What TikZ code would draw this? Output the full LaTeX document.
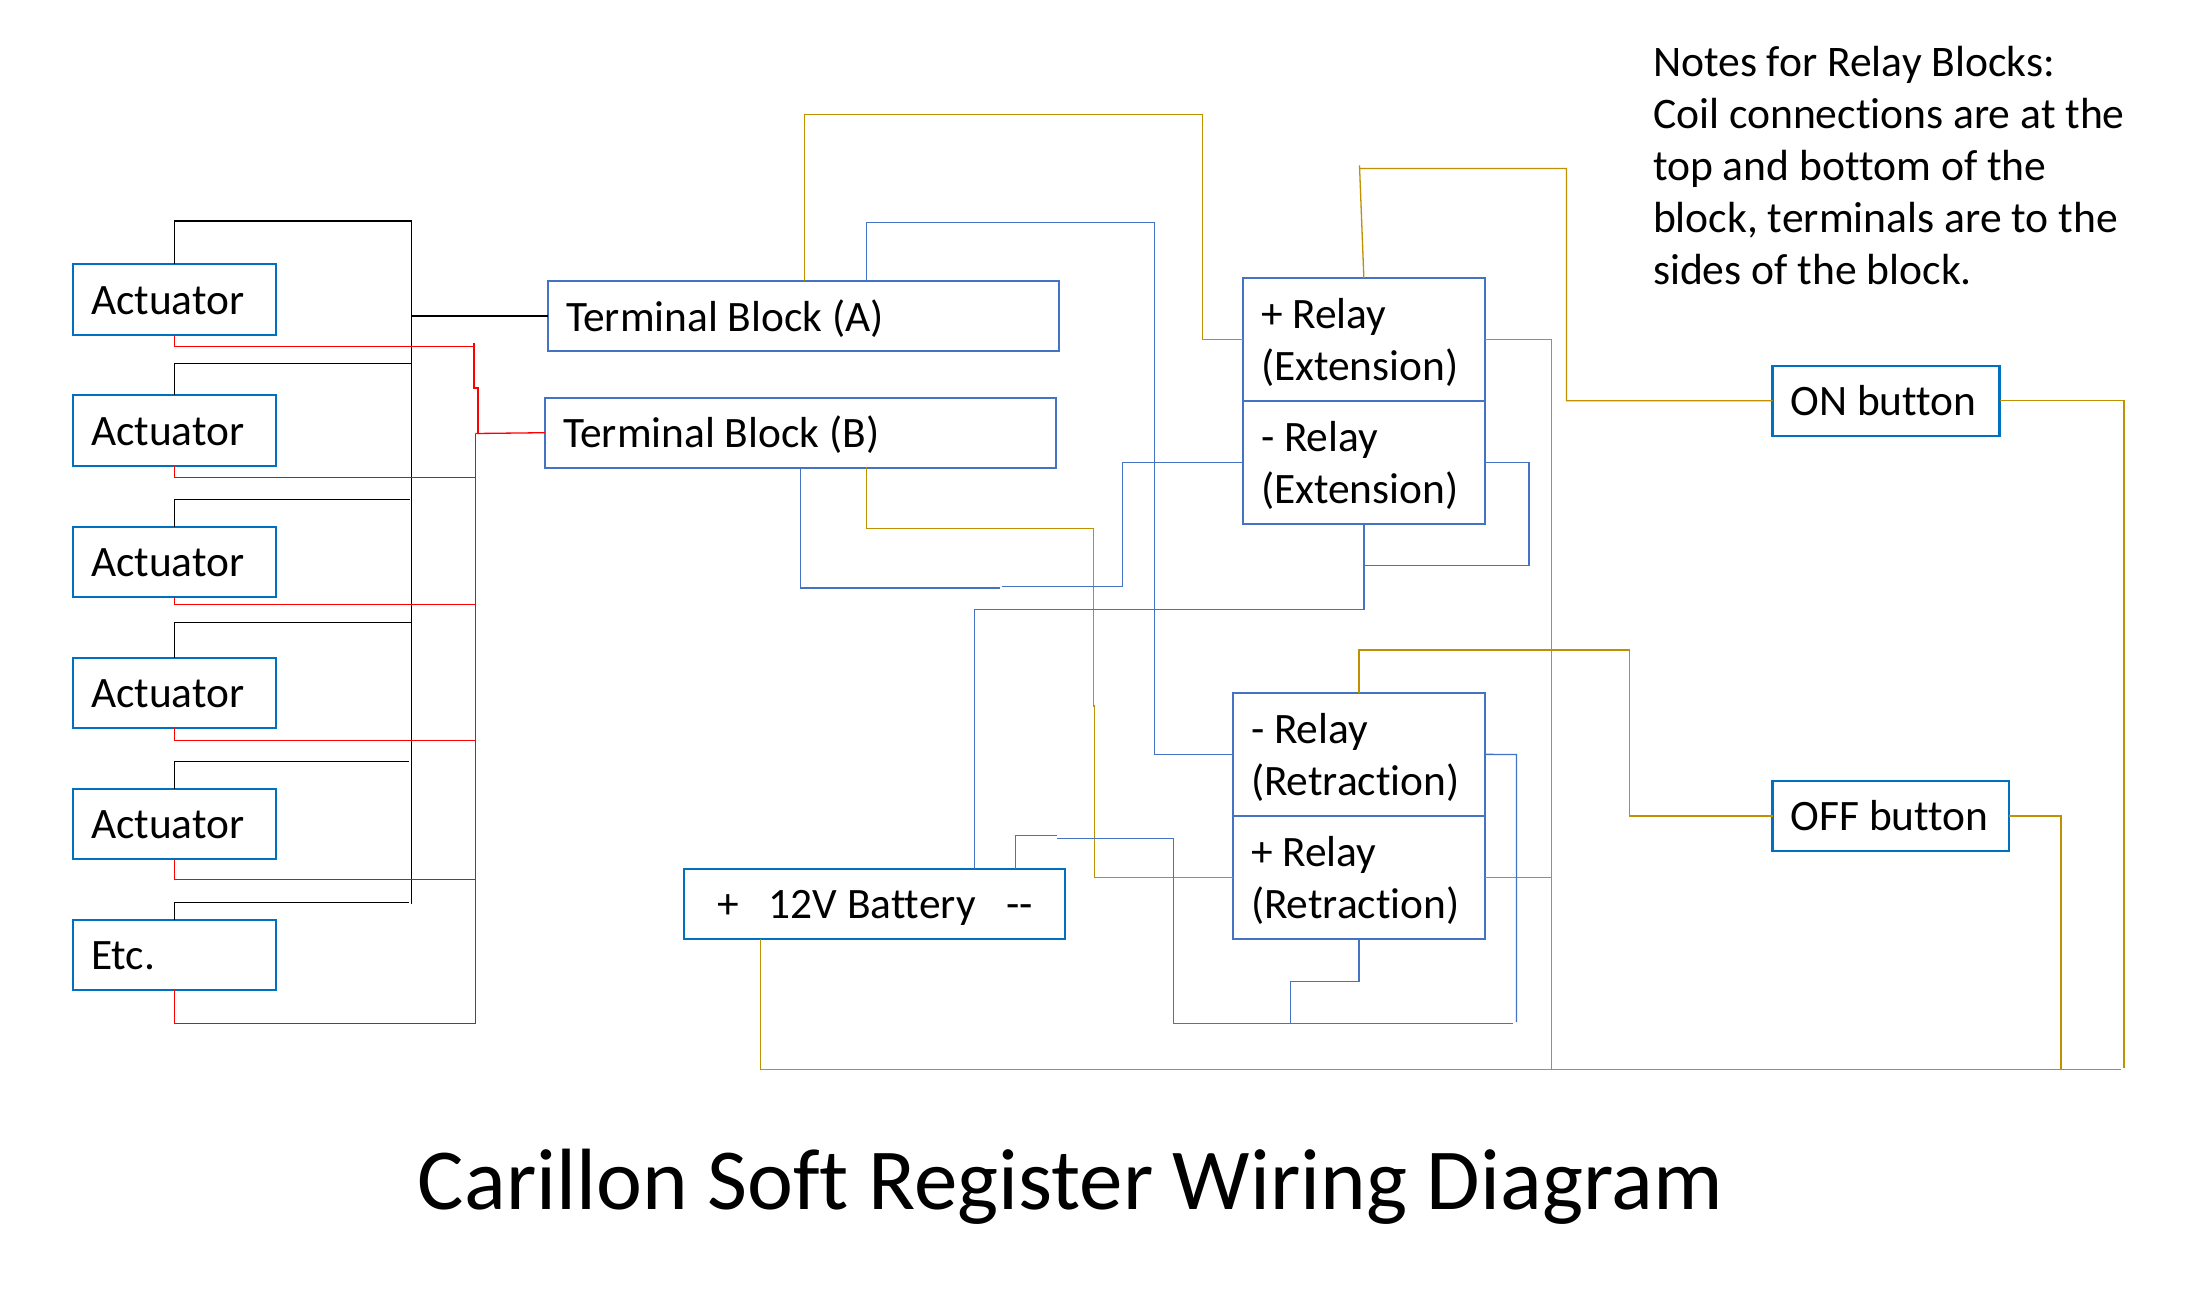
\documentclass[tikz,border=0pt]{standalone}
\usepackage{fontspec}
\setmainfont{Carlito}[Ligatures={NoCommon}]
\definecolor{boxA}{HTML}{0070C0}
\definecolor{boxB}{HTML}{4472C4}
\definecolor{wgold}{HTML}{BF9000}
\definecolor{wblue}{HTML}{4472C4}
\definecolor{wred}{HTML}{FF0000}
\tikzset{
  blk/.style={draw,fill=white,line width=2.4pt,inner xsep=18pt,inner ysep=0pt,outer sep=0pt,align=left,
    font=\fontsize{43.4}{52}\selectfont,text=black,
    execute at begin node={\spaceskip=0pt\xspaceskip=0pt\rule[-8pt]{0pt}{46pt}},
    execute at end node={\rule[-8pt]{0pt}{46pt}}},
  blkA/.style={blk,draw=boxA},
  blkB/.style={blk,draw=boxB},
  wire/.style={line width=1.3pt,line join=miter},
  wk/.style={wire,draw=black},
  wr/.style={wire,draw=wred},
  wg/.style={wire,draw=wgold},
  wb/.style={wire,draw=wblue},
  plain/.style={inner sep=0pt,outer sep=0pt,align=left,text=black},
}
\newcommand{\wbox}[7]{%
  \pgfmathsetmacro\bw{#4-#2}\pgfmathsetmacro\bh{#5-#3}\pgfmathsetmacro\tw{#4-#2-36}%
  \pgfmathsetmacro\cx{(#2+#4)/2}\pgfmathsetmacro\cy{(#3+#5)/2}%
  \node[#6,minimum width=\bw pt,minimum height=\bh pt,text width=\tw pt] (#1) at (\cx,\cy) {#7};}
\begin{document}
\begin{tikzpicture}[x=1pt,y=-1pt]
\useasboundingbox[fill=white] (0,0) rectangle (2205,1295);
% --- free ends and junctions
\coordinate (bkT) at (411.5,221);
\coordinate (bkJ) at (411.5,316);
\coordinate (bkB) at (411.5,904);
\coordinate (bk2) at (410.7,363.5);
\coordinate (bk3) at (410,499.3);
\coordinate (bk4) at (411.5,622.3);
\coordinate (bk5) at (409,761.3);
\coordinate (bk6) at (409,902.3);
\coordinate (rdA) at (474,346.5);
\coordinate (rdB) at (474,388);
\coordinate (rdC) at (478,388);
\coordinate (rdD) at (478,433.5);
\coordinate (rdE) at (475.4,433.5);
\coordinate (rdF) at (475.4,1023.5);
\coordinate (rdT) at (474,343);
\coordinate (rd2) at (475.4,477.5);
\coordinate (rd3) at (475.4,604.5);
\coordinate (rd4) at (475.4,740.5);
\coordinate (rd5) at (475.4,879.5);
\coordinate (paGo) at (804.5,281);
\coordinate (goC) at (1202.5,114.5);
\coordinate (blC) at (1154.5,222.5);
\coordinate (paBl) at (866.5,281);
\coordinate (pbGo) at (866.5,467);
\coordinate (goF) at (1093.5,528.5);
\coordinate (goG) at (1093.5,706);
\coordinate (goH) at (1094.5,706);
\coordinate (blE) at (1000,588);
\coordinate (blF) at (1001.5,586.5);
\coordinate (blG) at (1122.5,586.5);
\coordinate (blH) at (1529,463.8);
\coordinate (blI) at (1364.5,565.5);
\coordinate (blJ) at (974.5,609.5);
\coordinate (goTop) at (1359.5,165.5);
\coordinate (goK) at (1359.5,168.5);
\coordinate (goL) at (1566.5,168.5);
\coordinate (goBot) at (2120.7,1069.5);
\coordinate (goM) at (2124,1067.7);
\coordinate (goN) at (1551.5,340);
\coordinate (goNb) at (1551.5,1069.5);
\coordinate (goO) at (2061,1069.5);
\coordinate (goP) at (1629.5,650);
\coordinate (btGo) at (760.5,939);
\coordinate (btBa) at (974.5,868.7);
\coordinate (btBb) at (1015.5,868.7);
\coordinate (blQ) at (1056.7,835.5);
\coordinate (blR) at (1056.7,838.5);
\coordinate (blS) at (1173.5,1023.5);
\coordinate (blT) at (1290.5,1023.5);
\coordinate (blU) at (1513,1023.5);
\coordinate (blV) at (1516.5,754.5);
\coordinate (blW) at (1516.5,1022);
\coordinate (blX) at (1290.5,981.5);
% --- buses first, blocks on top
\draw[wk] (bkT) -- (bkB);
\draw[wr] (rdT) -- (rdB) -- (rdC) -- (rdD);
\draw[wr] (rdE) -- (rdF);
\wbox{a1}{73}{264}{276}{335}{blkA}{Actuator}
\wbox{a2}{73}{395}{276}{466}{blkA}{Actuator}
\wbox{a3}{73}{526.7}{276}{596.7}{blkA}{Actuator}
\wbox{a4}{73}{657.7}{276}{728}{blkA}{Actuator}
\wbox{a5}{73}{788.7}{276}{859}{blkA}{Actuator}
\wbox{a6}{73}{919.7}{276}{990}{blkA}{Etc.}
\wbox{ta}{548}{281}{1059}{351}{blkB}{Terminal Block (A)}
\wbox{tb}{545}{397.7}{1056}{467.7}{blkB}{Terminal Block (B)}
\wbox{pe}{1243}{278}{1484.7}{401}{blkB}{+ Relay\\(Extension)}
\wbox{me}{1243}{401}{1484.7}{524}{blkB}{- Relay\\(Extension)}
\wbox{mr}{1233}{692.7}{1485}{816}{blkB}{- Relay\\(Retraction)}
\wbox{pr}{1233}{816}{1485}{939}{blkB}{+ Relay\\(Retraction)}
\wbox{bt}{684}{868.7}{1064.7}{939}{blkA}{\hspace*{15pt}+\hspace*{30pt}12V Battery\hspace*{31pt}-{}-}
\wbox{on}{1772.6}{365.7}{1999.5}{435.7}{blkA}{\mbox{ON button}}
\wbox{of}{1772.6}{781}{2009}{850.7}{blkA}{\mbox{OFF button}}
% black
\draw[wk] (a1.north) |- (bkT);
\draw[wk] (bkJ) -- (ta.west);
\draw[wk] (a2.north) |- (bk2);
\draw[wk] (a3.north) |- (bk3);
\draw[wk] (a4.north) |- (bk4);
\draw[wk] (a5.north) |- (bk5);
\draw[wk] (a6.north) |- (bk6);
% red
\draw[wr] (a1.south) |- (rdA);
\draw[wr] (a2.south) |- (rd2);
\draw[wr] (a3.south) |- (rd3);
\draw[wr] (a4.south) |- (rd4);
\draw[wr] (a5.south) |- (rd5);
\draw[wr] (a6.south) |- (rdF);
\draw[wr] (rdE) -- (tb.west);
% gold
\draw[wg] (paGo) |- (goC) |- (pe.west);
\draw[wg] (pe.north) -- (goTop) -- (goK) -- (goL) |- (on.west);
\draw[wg] (pe.east) -| (goNb);
\draw[wg] (on.east) -| (goM);
\draw[wg] (btGo) |- (goBot);
\draw[wg] (pbGo) |- (goF) -- (goG) -- (goH) |- (pr.west);
\draw[wg] (pr.east) -- (goN |- pr.east);
\draw[wg] (mr.north) |- (goP) |- (of.west);
\draw[wg] (of.east) -| (goO);
% blue
\draw[wb] (paBl) |- (blC) |- (mr.west);
\draw[wb] (tb.south) |- (blE);
\draw[wb] (blF) -- (blG) |- (me.west);
\draw[wb] (me.east) -| (blH) |- (blI);
\draw[wb] (me.south) |- (blJ) -- (btBa);
\draw[wb] (btBb) |- (blQ);
\draw[wb] (blR) -| (blS) -- (blU);
\draw[wb] (mr.east) -- (blV) -- (blW);
\draw[wb] (pr.south) |- (blX) -- (blT);
% texts
\node[plain,anchor=north west,font=\fontsize{43.6}{52}\selectfont,execute at begin node={\spaceskip=0pt\xspaceskip=0pt}] (notes) at (1653,46.5)
 {Notes for Relay Blocks:\\Coil connections are at the\\top and bottom of the\\block, terminals are to the\\sides of the block.};
\node[plain,anchor=center,font=\fontsize{87}{110}\selectfont] (title) at (1070.5,1187) {Carillon Soft Register Wiring Diagram};
\end{tikzpicture}
\end{document}
